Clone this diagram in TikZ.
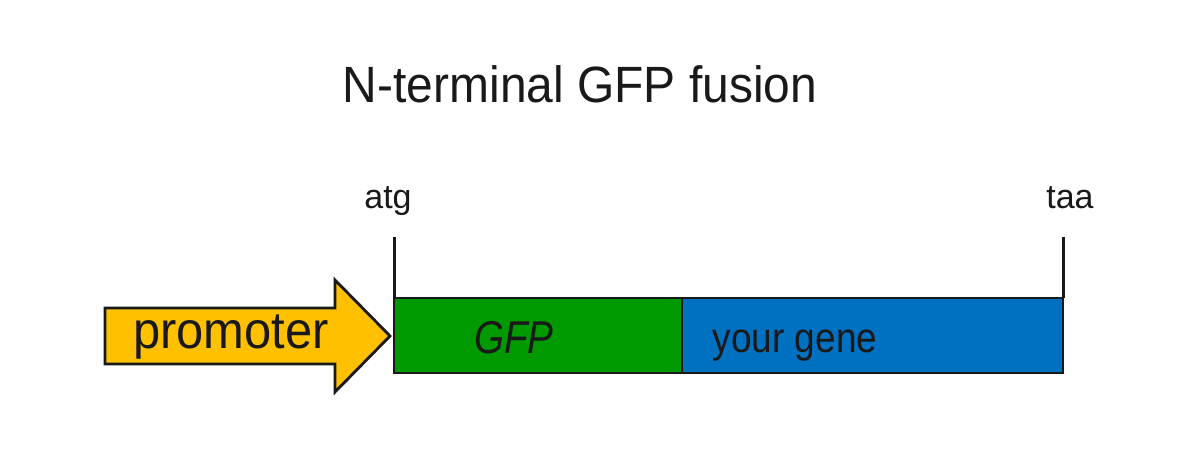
\documentclass[tikz,border=0pt]{standalone}
\usepackage{fontspec}
\usepackage{graphicx}
\setmainfont{Liberation Sans}
\definecolor{promo}{HTML}{FFC000}
\definecolor{gfpgreen}{HTML}{009900}
\definecolor{geneblue}{HTML}{0070C0}
\begin{document}
\begin{tikzpicture}[x=1pt,y=-1pt,
  outline/.style={draw=black!90,line width=2.8pt,line join=miter},
  tick/.style={draw=black!90,line width=3pt},
  lbl/.style={anchor=base,inner sep=0pt,text=black!90},
  segbox/.style={outline,anchor=north west,inner sep=0pt,outer sep=0pt,minimum height=75pt}]
\useasboundingbox[fill=white] (0,0) rectangle (1198,471);
% title
\node[lbl,font=\fontsize{51}{60}\selectfont] (title) at (580,102) {\scalebox{0.94}[1]{N-terminal GFP fusion}};
% promoter arrow
\draw[outline,fill=promo] (105,308) -- (335,308) -- (335,280) -- (390,336) -- (335,392) -- (335,364) -- (105,364) -- cycle;
\node[lbl,font=\fontsize{52}{60}\selectfont] (promoter) at (231,348) {\scalebox{0.94}[1]{promoter}};
% boxes
\node[segbox,fill=gfpgreen,minimum width=288pt] (gfp) at (394,298) {};
\node[segbox,fill=geneblue,minimum width=381pt] (gene) at (682,298) {};
\node[lbl,font=\fontsize{46}{54}\selectfont\itshape] (gfptext) at (514,353) {\scalebox{0.84}[1]{GFP}};
\node[lbl,font=\fontsize{42}{50}\selectfont] (genetext) at (795,352) {\scalebox{0.88}[1]{your gene}};
% ticks
\coordinate (atgtop) at (394,237);
\coordinate (taatop) at (1063,237);
\draw[tick] (gfp.north west) -- (atgtop);
\draw[tick] (gene.north east) -- (taatop);
\node[lbl,font=\fontsize{34}{40}\selectfont] (atg) at (388,208) {atg};
\node[lbl,font=\fontsize{34}{40}\selectfont] (taa) at (1070,208) {taa};
\end{tikzpicture}
\end{document}
